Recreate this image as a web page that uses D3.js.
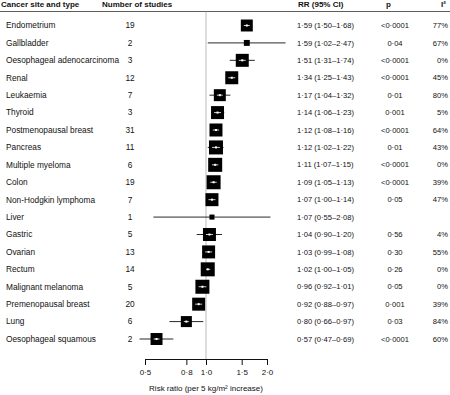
<!DOCTYPE html>
<meta charset="utf-8">
<head>
<style>
  body { margin: 0; background: #fff; font-family: 'Liberation Sans', Arial, sans-serif; }
  svg text { fill: #111; }
</style>
</head>
<body>
<div id="chart"></div>
<script src="https://d3js.org/d3.v7.min.js"></script>
<script>

// data
var sites = ["Endometrium", "Gallbladder", "Oesophageal adenocarcinoma", "Renal", "Leukaemia",
  "Thyroid", "Postmenopausal breast", "Pancreas", "Multiple myeloma", "Colon",
  "Non-Hodgkin lymphoma", "Liver", "Gastric", "Ovarian", "Rectum",
  "Malignant melanoma", "Premenopausal breast", "Lung", "Oesophageal squamous"];
var nStudies = [19, 2, 3, 12, 7, 3, 31, 11, 6, 19, 7, 1, 5, 13, 14, 5, 20, 6, 2];
var rr   = [1.59, 1.59, 1.51, 1.34, 1.17, 1.14, 1.12, 1.12, 1.11, 1.09, 1.07, 1.07, 1.04, 1.03, 1.02, 0.96, 0.92, 0.80, 0.57];
var ciLo = [1.50, 1.02, 1.31, 1.25, 1.04, 1.06, 1.08, 1.02, 1.07, 1.05, 1.00, 0.55, 0.90, 0.99, 1.00, 0.92, 0.88, 0.66, 0.47];
var ciHi = [1.68, 2.47, 1.74, 1.43, 1.32, 1.23, 1.16, 1.22, 1.15, 1.13, 1.14, 2.08, 1.20, 1.08, 1.05, 1.01, 0.97, 0.97, 0.69];
var pVals = ["<0·0001", "0·04", "<0·0001", "<0·0001", "0·01", "0·001", "<0·0001", "0·01", "<0·0001", "<0·0001",
  "0·05", "", "0·56", "0·30", "0·26", "0·05", "0·001", "0·03", "<0·0001"];
var i2 = ["77%", "67%", "0%", "45%", "80%", "5%", "64%", "43%", "0%", "39%", "47%", "", "4%", "55%", "0%", "0%", "39%", "84%", "60%"];
// relative study weight (box area)
var weight = [73, 18, 86, 86, 73, 86, 86, 100, 100, 100, 86, 13, 86, 86, 100, 100, 86, 62, 73];
var ticks = [0.5, 0.8, 1.0, 1.5, 2.0];

var W = 450, H = 395;
var fmt = function(v) { return d3.format(".2f")(v).replace(".", "·"); };

var data = sites.map(function(s, i) {
  return {site: s, n: nStudies[i], rr: rr[i], lo: ciLo[i], hi: ciHi[i], p: pVals[i], i2: i2[i], w: weight[i]};
});

var svg = d3.select("#chart").append("svg")
  .attr("width", W)
  .attr("height", H);

var x = d3.scaleLog().domain([0.5, 2]).range([145, 267]);
var y = d3.scalePoint().domain(sites).range([25.5, 339]);
var box = d3.scaleSqrt().domain([0, 100]).range([0, 14]);

// header
var head = svg.append("g").style("font-size", "8px").style("font-weight", "bold");
head.append("text").attr("x", 1).attr("y", 7).text("Cancer site and type");
head.append("text").attr("x", 102).attr("y", 7).text("Number of studies");
head.append("text").attr("x", 298).attr("y", 7).text("RR (95% CI)");
head.append("text").attr("x", 386).attr("y", 7).text("p");
head.append("text").attr("x", 441).attr("y", 7).text("I²");
svg.append("line")
  .attr("x1", 0).attr("x2", W)
  .attr("y1", 11.5).attr("y2", 11.5)
  .attr("stroke", "#333").attr("stroke-width", 0.8);

// reference line at RR = 1
svg.append("line")
  .attr("x1", x(1)).attr("x2", x(1))
  .attr("y1", 11.5).attr("y2", 359)
  .attr("stroke", "#aaa").attr("stroke-width", 0.8);

// row texts
var rows = svg.append("g").style("font-size", "8.3px");
rows.selectAll(".lab").data(data).enter().append("text")
  .attr("x", 6).attr("y", function(d) { return y(d.site); }).attr("dy", "0.35em")
  .text(function(d) { return d.site; });
rows.selectAll(".num").data(data).enter().append("text")
  .attr("x", 130).attr("y", function(d) { return y(d.site); }).attr("dy", "0.35em")
  .attr("text-anchor", "middle")
  .text(function(d) { return d.n; });
rows.selectAll(".rr").data(data).enter().append("text")
  .attr("x", 297).attr("y", function(d) { return y(d.site); }).attr("dy", "0.35em")
  .style("font-size", "7.6px")
  .text(function(d) { return fmt(d.rr) + " (" + fmt(d.lo) + "–" + fmt(d.hi) + ")"; });
rows.selectAll(".p").data(data).enter().append("text")
  .attr("x", 395).attr("y", function(d) { return y(d.site); }).attr("dy", "0.35em")
  .attr("text-anchor", "middle").style("font-size", "7.6px")
  .text(function(d) { return d.p; });
rows.selectAll(".i2").data(data).enter().append("text")
  .attr("x", 448).attr("y", function(d) { return y(d.site); }).attr("dy", "0.35em")
  .attr("text-anchor", "end").style("font-size", "7.6px")
  .text(function(d) { return d.i2; });

// CI lines
var marks = svg.append("g");
marks.selectAll(".ci").data(data).enter().append("line")
  .attr("x1", function(d) { return x(d.lo); })
  .attr("x2", function(d) { return x(d.hi); })
  .attr("y1", function(d) { return y(d.site); })
  .attr("y2", function(d) { return y(d.site); })
  .attr("stroke", "#111").attr("stroke-width", 0.9);

// boxes
marks.selectAll(".box").data(data).enter().append("rect")
  .attr("x", function(d) { return x(d.rr) - box(d.w) / 2; })
  .attr("y", function(d) { return y(d.site) - box(d.w) / 2; })
  .attr("width", function(d) { return box(d.w); })
  .attr("height", function(d) { return box(d.w); })
  .attr("fill", "#000");

// white CI inside the box
marks.selectAll(".inner").data(data.filter(function(d) { return box(d.w) > 8; })).enter().append("line")
  .attr("x1", function(d) { return Math.max(x(d.lo), x(d.rr) - box(d.w) / 2 + 3); })
  .attr("x2", function(d) { return Math.min(x(d.hi), x(d.rr) + box(d.w) / 2 - 3); })
  .attr("y1", function(d) { return y(d.site); })
  .attr("y2", function(d) { return y(d.site); })
  .attr("stroke", "#fff").attr("stroke-width", 0.8);
marks.selectAll(".pt").data(data.filter(function(d) { return box(d.w) > 8; })).enter().append("rect")
  .attr("x", function(d) { return x(d.rr) - 1; })
  .attr("y", function(d) { return y(d.site) - 1; })
  .attr("width", 2).attr("height", 2)
  .attr("fill", "#fff");

// axis
var axis = svg.append("g")
  .attr("transform", "translate(0,359)")
  .call(d3.axisBottom(x).tickValues(ticks).tickSize(6).tickFormat(function(d) { return d3.format(".1f")(d).replace(".", "·"); }));
axis.select(".domain").attr("stroke", "#111");
axis.selectAll(".tick line").attr("stroke", "#111");
axis.selectAll("text").style("font-size", "8px").style("font-family", "'Liberation Sans', Arial, sans-serif").attr("fill", "#111").attr("dy", "0.9em");

svg.append("text")
  .attr("x", x(1)).attr("y", 391)
  .attr("text-anchor", "middle")
  .style("font-size", "8px")
  .text("Risk ratio (per 5 kg/m² increase)");

</script>
</body>
